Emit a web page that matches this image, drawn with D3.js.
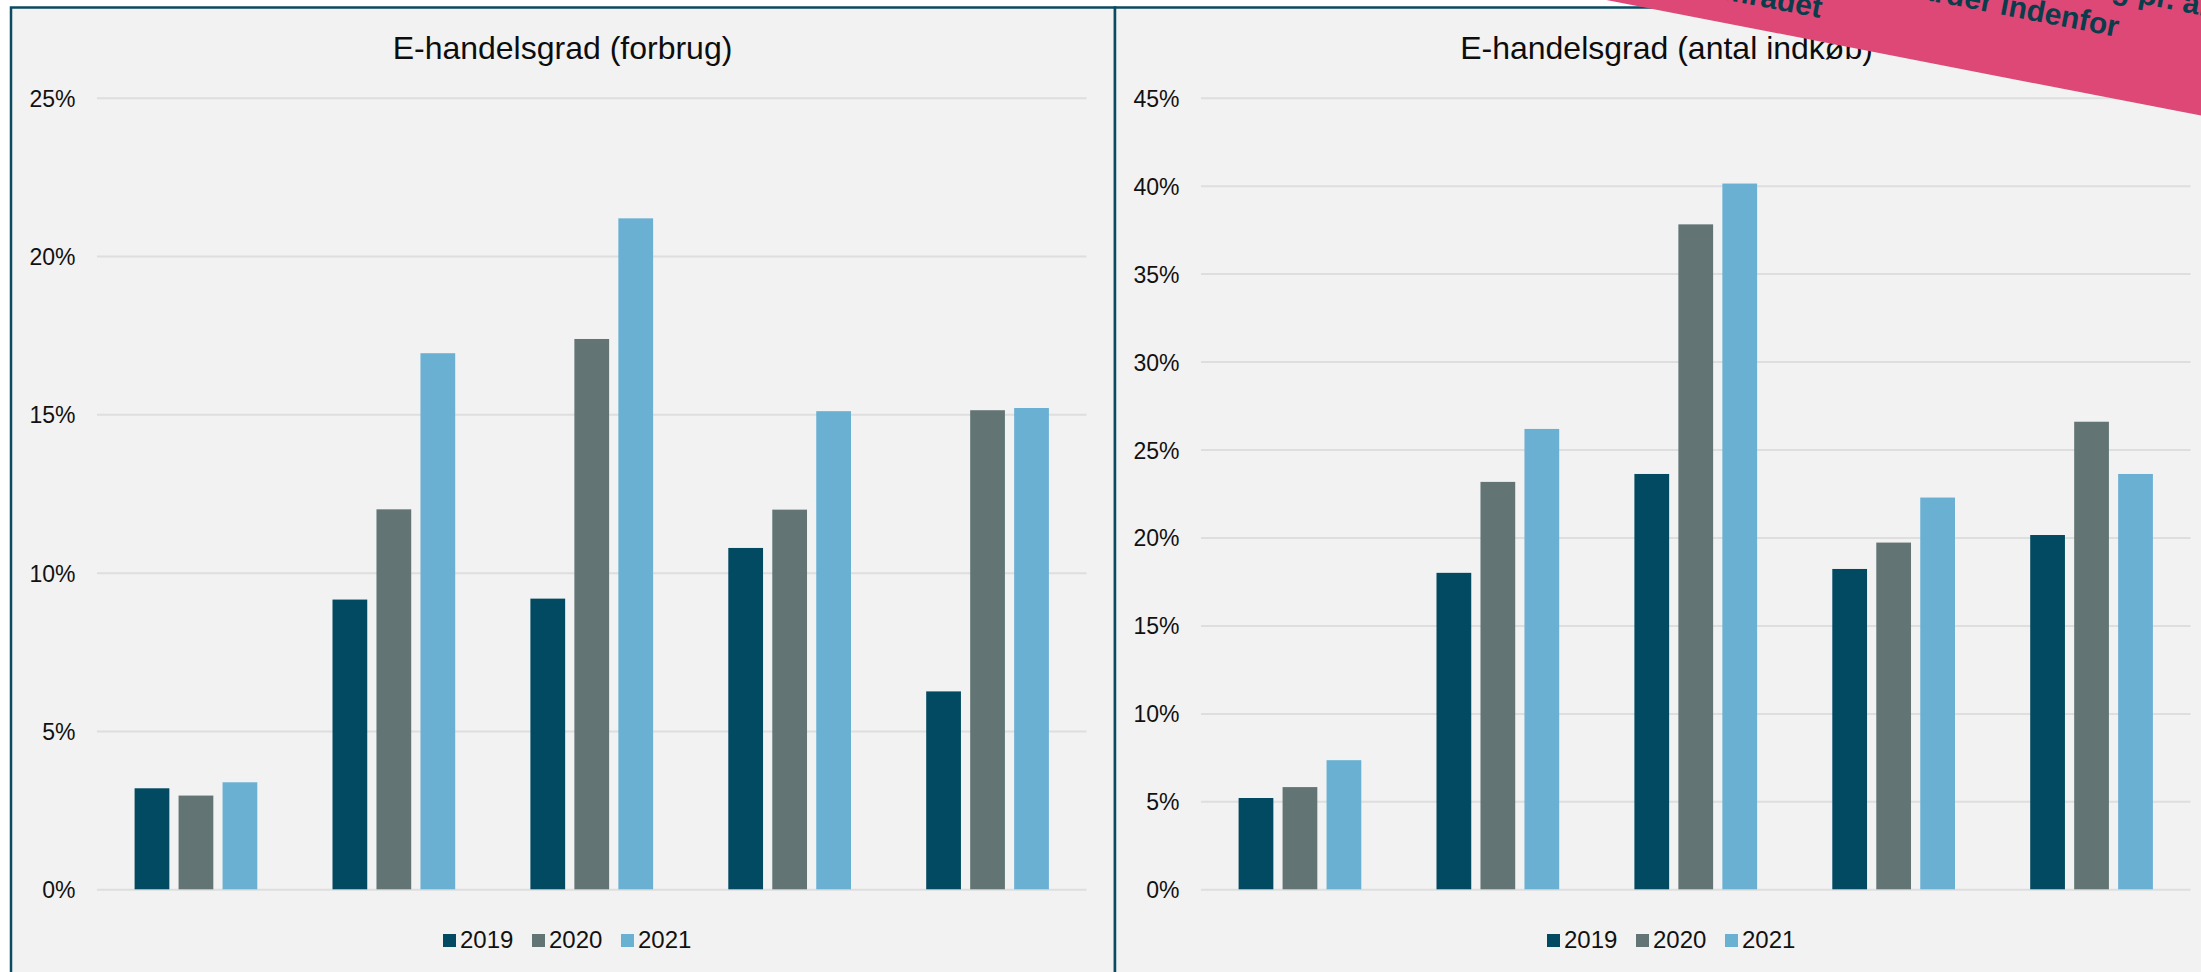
<!DOCTYPE html>
<html>
<head>
<meta charset="utf-8">
<script src="https://cdn.jsdelivr.net/npm/d3@7"></script>
<style>
  html, body { margin: 0; padding: 0; background: #ffffff; overflow: hidden; }
  svg { display: block; font-family: "Liberation Sans", Arial, sans-serif; }
</style>
</head>
<body>
<svg id="chart" width="2201" height="972"></svg>
<script>
// ---- data ----
const categories = ["Kategori 1", "Kategori 2", "Kategori 3", "Kategori 4", "Kategori 5"];
const years = ["2019", "2020", "2021"];

const forbrug2019 = [3.19, 9.15, 9.18, 10.78, 6.25];
const forbrug2020 = [2.96, 12.0, 17.38, 11.99, 15.13];
const forbrug2021 = [3.38, 16.93, 21.19, 15.1, 15.2];

const antal2019 = [5.19, 17.99, 23.61, 18.21, 20.14];
const antal2020 = [5.81, 23.16, 37.8, 19.71, 26.58];
const antal2021 = [7.34, 26.17, 40.12, 22.27, 23.61];

const forbrugTicks = [0, 5, 10, 15, 20, 25];
const antalTicks = [0, 5, 10, 15, 20, 25, 30, 35, 40, 45];

const titles = ["E-handelsgrad (forbrug)", "E-handelsgrad (antal indkøb)"];
const bannerLines = ["E-handelsomsætning pr. år", "Standarder indenfor", "på området"];

// ---- styles ----
const colors = ["#024a61", "#627574", "#69b0d3"];
const panelFill = "#f2f2f2";
const borderColor = "#0b4b62";
const gridColor = "#dedede";

const svg = d3.select("#chart");

svg.append("rect").attr("x", 0).attr("y", 0).attr("width", 2201).attr("height", 972).attr("fill", "#ffffff");

function drawPanel(offsetX, title, series, ticks) {
  const g = svg.append("g").attr("transform", `translate(${offsetX},0)`);
  const panelX = 11, panelW = 1104;
  g.append("rect")
    .attr("x", panelX).attr("y", 7.5)
    .attr("width", panelW).attr("height", 1100)
    .attr("fill", panelFill)
    .attr("stroke", borderColor).attr("stroke-width", 2.5);

  g.append("text")
    .attr("x", panelX + panelW / 2 - 0.5).attr("y", 59)
    .attr("text-anchor", "middle")
    .attr("font-size", 32).attr("fill", "#0d0d0d")
    .text(title);

  const x0 = 97, x1 = 1086.5;
  const y = d3.scaleLinear().domain([0, d3.max(ticks)]).range([889.3, 97.7]);
  const x = d3.scaleBand().domain(categories).range([x0, x1]).paddingInner(0).paddingOuter(0);
  const groupW = 122.7;
  const xs = d3.scaleBand().domain(years).range([0, groupW]).paddingInner(0.21).paddingOuter(0);

  const axis = d3.axisLeft(y)
    .tickValues(ticks)
    .tickSize(-(x1 - x0))
    .tickPadding(21.5)
    .tickFormat(d => d + "%");
  const ax = g.append("g").attr("transform", `translate(${x0},0)`).call(axis);
  ax.select(".domain").remove();
  ax.selectAll(".tick line").attr("stroke", gridColor).attr("stroke-width", 2);
  ax.selectAll(".tick text")
    .attr("font-size", 23)
    .attr("fill", "#111")
    .attr("font-family", "'Liberation Sans', Arial, sans-serif")
    .attr("dy", "0.37em");

  const rows = categories.map((c, i) => ({ cat: c, vals: series.map(s => s[i]) }));
  const grp = g.selectAll("g.grp").data(rows).enter().append("g")
    .attr("class", "grp")
    .attr("transform", d => `translate(${x(d.cat) + (x.bandwidth() - groupW) / 2},0)`);
  grp.selectAll("rect").data(d => d.vals.map((v, j) => ({ v, year: years[j], j })))
    .enter().append("rect")
    .attr("x", d => xs(d.year))
    .attr("width", xs.bandwidth())
    .attr("y", d => y(d.v))
    .attr("height", d => y(0) - y(d.v))
    .attr("fill", d => colors[d.j]);

  // legend
  const lg = g.append("g");
  years.forEach((yr, i) => {
    const lx = 443 + i * 89;
    lg.append("rect").attr("x", lx).attr("y", 934).attr("width", 13).attr("height", 13).attr("fill", colors[i]);
    lg.append("text").attr("x", lx + 17).attr("y", 948.3)
      .attr("font-size", 24).attr("fill", "#111").text(yr);
  });
}

drawPanel(0, titles[0], [forbrug2019, forbrug2020, forbrug2021], forbrugTicks);
drawPanel(1104, titles[1], [antal2019, antal2020, antal2021], antalTicks);

// ---- pink banner (rotated sticker at top right) ----
const angle = 11;
const banner = svg.append("g").attr("transform", `rotate(${angle})`);
banner.append("rect")
  .attr("x", 1300).attr("y", -700)
  .attr("width", 1400).attr("height", 700 - 306.5)
  .attr("fill", "#de4877");
const lineEnds = [[2172, -405], [2085, -367.6], [1790, -329.6]];
bannerLines.forEach((t, i) => {
  banner.append("text")
    .attr("x", lineEnds[i][0]).attr("y", lineEnds[i][1])
    .attr("text-anchor", "end")
    .attr("font-size", 30).attr("font-weight", "bold")
    .attr("fill", "#0a3d4b")
    .text(t);
});
</script>
</body>
</html>
